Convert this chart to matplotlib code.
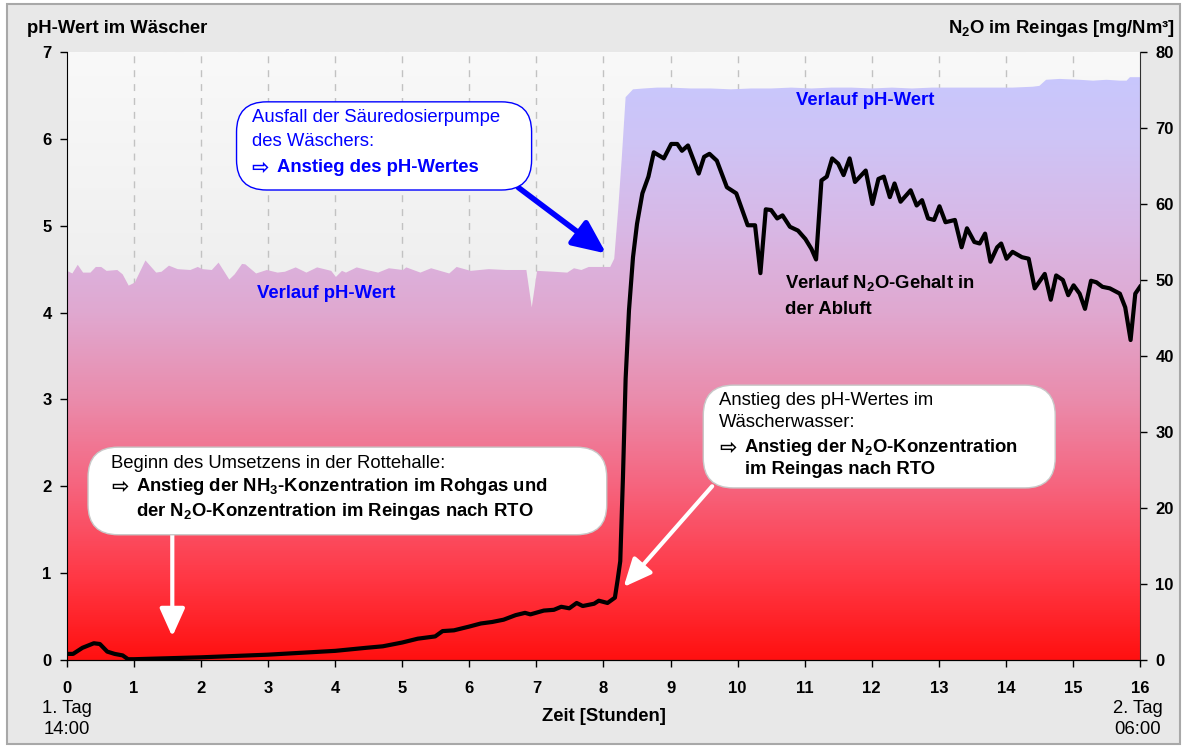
import numpy as np
import matplotlib.pyplot as plt
from matplotlib.colors import LinearSegmentedColormap
from matplotlib.patches import Polygon, FancyBboxPatch, Rectangle

plt.rcParams['font.family'] = ['Liberation Sans', 'DejaVu Sans']
plt.rcParams['font.weight'] = 'bold'
plt.rcParams['font.size'] = 12
plt.rcParams['mathtext.fontset'] = 'custom'
plt.rcParams['mathtext.rm'] = 'Liberation Sans'
plt.rcParams['mathtext.bf'] = 'Liberation Sans:bold'

# pH im Waescher (linke Achse)
t_ph = [0.00, 0.08, 0.16, 0.24, 0.35, 0.43, 0.51, 0.59, 0.75, 0.83, 0.92, 1.01,
        1.17, 1.33, 1.41, 1.52, 1.65, 1.84, 1.95, 2.02, 2.16, 2.26, 2.42, 2.50,
        2.61, 2.66, 2.82, 2.98, 3.14, 3.25, 3.41, 3.57, 3.73, 3.94, 4.01, 4.10,
        4.16, 4.32, 4.47, 4.64, 4.80, 5.01, 5.06, 5.27, 5.43, 5.70, 5.81, 6.02,
        6.29, 6.55, 6.85, 6.93, 7.01, 7.25, 7.46, 7.56, 7.67, 7.78, 8.10, 8.16,
        8.22, 8.27, 8.33, 8.44, 8.60, 8.80, 9.00, 9.30, 9.60, 9.90, 10.20, 10.50,
        10.80, 11.10, 11.40, 11.70, 12.00, 12.30, 12.60, 12.90, 13.20, 13.50,
        13.80, 14.10, 14.40, 14.50, 14.60, 14.80, 15.10, 15.30, 15.50, 15.70,
        15.80, 15.85, 16.00]
ph = [4.48, 4.45, 4.55, 4.46, 4.46, 4.525, 4.525, 4.48, 4.49, 4.44, 4.31, 4.345,
      4.60, 4.46, 4.47, 4.54, 4.50, 4.49, 4.525, 4.50, 4.49, 4.575, 4.38, 4.44,
      4.56, 4.555, 4.45, 4.49, 4.46, 4.47, 4.52, 4.46, 4.52, 4.48, 4.41, 4.48,
      4.46, 4.52, 4.49, 4.46, 4.51, 4.49, 4.52, 4.46, 4.51, 4.45, 4.525, 4.48,
      4.50, 4.49, 4.49, 4.06, 4.48, 4.47, 4.46, 4.51, 4.49, 4.525, 4.525, 4.62,
      5.20, 5.75, 6.48, 6.57, 6.58, 6.59, 6.59, 6.58, 6.58, 6.57, 6.58, 6.58,
      6.59, 6.58, 6.59, 6.59, 6.58, 6.59, 6.58, 6.59, 6.59, 6.59,
      6.59, 6.59, 6.60, 6.61, 6.68, 6.69, 6.68, 6.67, 6.68, 6.67,
      6.67, 6.71, 6.71]

# N2O im Reingas (rechte Achse)
t_n2o = [0.00, 0.09, 0.23, 0.40, 0.49, 0.60, 0.71, 0.83, 0.91, 1.00, 2.00, 3.00,
         3.60, 4.00, 4.46, 4.71, 5.00, 5.23, 5.49, 5.60, 5.77, 6.00, 6.17, 6.34,
         6.51, 6.69, 6.83, 6.91, 7.11, 7.26, 7.37, 7.49, 7.60, 7.69, 7.86, 7.93,
         8.06, 8.17, 8.21, 8.25, 8.29, 8.33, 8.38, 8.44, 8.50, 8.58, 8.67, 8.75,
         8.90, 9.01, 9.10, 9.17, 9.26, 9.42, 9.50, 9.58, 9.69, 9.84, 9.98, 10.15,
         10.26, 10.34, 10.42, 10.50, 10.59, 10.67, 10.78, 10.90, 11.01, 11.10,
         11.17, 11.25, 11.33, 11.41, 11.50, 11.58, 11.67, 11.75, 11.91, 12.01,
         12.10, 12.18, 12.27, 12.34, 12.43, 12.58, 12.67, 12.75, 12.84, 12.93,
         13.01, 13.10, 13.24, 13.34, 13.42, 13.53, 13.61, 13.69, 13.77, 13.87,
         13.93, 14.01, 14.10, 14.24, 14.34, 14.43, 14.58, 14.67, 14.75, 14.85,
         14.93, 15.01, 15.10, 15.18, 15.27, 15.35, 15.44, 15.55, 15.70, 15.78,
         15.86, 15.93, 16.00]
n2o = [0.8, 0.8, 1.6, 2.2, 2.1, 1.1, 0.8, 0.6, 0.1, 0.1, 0.35, 0.7,
       1.0, 1.2, 1.6, 1.8, 2.3, 2.8, 3.1, 3.8, 3.9, 4.4, 4.8, 5.0,
       5.3, 5.9, 6.2, 6.0, 6.5, 6.6, 7.0, 6.8, 7.5, 7.1, 7.4, 7.8,
       7.5, 8.2, 10.5, 13.0, 24.0, 37.0, 46.0, 53.0, 57.4, 61.4, 63.6, 66.8,
       66.0, 67.9, 67.9, 67.0, 67.7, 64.0, 66.2, 66.6, 65.7, 62.2, 61.4, 57.2,
       57.2, 50.9, 59.3, 59.2, 58.1, 58.5, 57.0, 56.5, 55.4, 54.1,
       52.7, 63.1, 63.6, 66.0, 65.3, 63.8, 66.0, 62.9, 64.4, 60.0,
       63.3, 63.6, 60.9, 62.7, 60.3, 61.8, 59.8, 60.5, 58.1, 57.9,
       59.7, 57.6, 57.9, 54.3, 56.8, 55.0, 54.8, 56.1, 52.4, 54.3,
       54.8, 52.8, 53.7, 53.0, 52.8, 48.9, 50.8, 47.4, 50.6, 50.0,
       48.0, 49.3, 48.2, 46.2, 49.9, 49.7, 49.1, 48.9, 48.2, 46.4,
       42.1, 48.2, 49.1]

hours = list(range(17))
n2o_ticks = list(range(0, 81, 10))

N2O = r'N$_\mathbf{2}$O'
FS = 13.3

fig = plt.figure(figsize=(11.86, 7.47), dpi=100)
fig.patch.set_facecolor('white')
fig.add_artist(Rectangle((0.006, 0.004), 0.989, 0.99, transform=fig.transFigure,
                         facecolor='#e8e8e8', edgecolor='#a8a8a8', lw=1.5, zorder=-10))

ax = fig.add_axes([0.0565, 0.1165, 0.9047, 0.8139])
ax.set_facecolor('none')

# hintergrund im Diagramm: hell nach grau
bg = LinearSegmentedColormap.from_list('bg', ['#dedede', '#f9f9f9'])
ax.imshow(np.linspace(0, 1, 256).reshape(-1, 1), extent=(0, 16, 0, 7), origin='lower',
          aspect='auto', cmap=bg, zorder=0)

for h in hours[1:-1]:
    ax.axvline(h, color='#c2c2c2', lw=1, dashes=(5, 5), zorder=1)

# pH-Flaeche mit Farbverlauf rot -> lila -> blau
ph_cmap = LinearSegmentedColormap.from_list('ph', [
    (0.0, '#ff1010'), (1/7, '#ff3a48'), (2/7, '#f6647e'), (3/7, '#ea8cac'),
    (4/7, '#e0a8d0'), (5/7, '#d8b8e6'), (6/7, '#cec4f6'), (1.0, '#c6c8ff')])
im = ax.imshow(np.linspace(0, 1, 512).reshape(-1, 1), extent=(0, 16, 0, 7), origin='lower',
               aspect='auto', cmap=ph_cmap, zorder=2)
poly = Polygon(np.column_stack([np.r_[t_ph, 16, 0], np.r_[ph, 0, 0]]), closed=True,
               facecolor='none', edgecolor='none', transform=ax.transData)
ax.add_patch(poly)
im.set_clip_path(poly)

ax.set_xlim(0, 16)
ax.set_ylim(0, 7)
ax.set_xticks(hours)
ax.set_yticks(range(8))
ax.tick_params(axis='y', direction='out', length=5, width=1, pad=6, labelsize=12)
ax.tick_params(axis='x', direction='out', length=5, width=1, pad=10, labelsize=12)
ax.spines['top'].set_visible(False)
ax.spines['right'].set_visible(False)

ax2 = ax.twinx()
ax2.plot(t_n2o, n2o, color='black', lw=3, zorder=3)
ax2.set_ylim(0, 80)
ax2.set_yticks(n2o_ticks)
ax2.tick_params(axis='y', direction='out', length=5, width=1, pad=6, labelsize=12)
ax2.spines['top'].set_visible(False)
ax2.spines['left'].set_visible(False)
ax2.spines['right'].set_color('#303030')

asp = 1073 / 608

# Sprechblasen
def bubble(x0, y0, x1, y1, ec):
    ax2.add_patch(FancyBboxPatch((x0, y0), x1 - x0, y1 - y0,
                                 boxstyle='round,pad=0,rounding_size=0.028',
                                 mutation_aspect=asp, transform=ax2.transAxes,
                                 facecolor='white', edgecolor=ec, lw=1, zorder=5))

def line(x, y, s, weight='bold', color='black', arrow_sign=False):
    if arrow_sign:
        ax2.text(x, y, '⇨', transform=ax2.transAxes, fontsize=15, fontweight='bold',
                 color=color, ha='left', va='center', zorder=6, family='DejaVu Sans')
        ax2.annotate(s, xy=(x, y), xycoords=ax2.transAxes, xytext=(18, 0),
                     textcoords='offset points', fontsize=FS, fontweight=weight,
                     color=color, ha='left', va='center', zorder=6)
    else:
        ax2.text(x, y, s, transform=ax2.transAxes, fontsize=FS, fontweight=weight,
                 color=color, ha='left', va='center', zorder=6)

def arrow(tail, tip, color, lw, ms):
    ax2.annotate('', xy=tip, xytext=tail, xycoords=ax.transData, textcoords=ax.transData,
                 arrowprops=dict(arrowstyle='-|>,head_length=1.0,head_width=0.45',
                                 color=color, lw=lw, mutation_scale=ms,
                                 shrinkA=0, shrinkB=0), zorder=4)

arrow((6.73, 5.44), (8.04, 4.68), '#0000ff', 4, 20)
arrow((1.57, 1.44), (1.57, 0.27), 'white', 3, 17)
arrow((9.62, 2.00), (8.30, 0.84), 'white', 3, 17)

bubble(0.158, 0.773, 0.433, 0.918, '#0000ff')
line(0.172, 0.893, 'Ausfall der Säuredosierpumpe', 'normal', '#0000ff')
line(0.172, 0.852, 'des Wäschers:', 'normal', '#0000ff')
line(0.172, 0.810, 'Anstieg des pH-Wertes', 'bold', '#0000ff', arrow_sign=True)

bubble(0.0196, 0.206, 0.503, 0.350, '#c8c8c8')
line(0.041, 0.323, 'Beginn des Umsetzens in der Rottehalle:', 'normal')
line(0.041, 0.285, r'Anstieg der NH$_\mathbf{3}$-Konzentration im Rohgas und', arrow_sign=True)
line(0.0645, 0.244, 'der ' + N2O + '-Konzentration im Reingas nach RTO')

bubble(0.593, 0.283, 0.921, 0.452, '#c8c8c8')
line(0.608, 0.426, 'Anstieg des pH-Wertes im', 'normal')
line(0.608, 0.390, 'Wäscherwasser:', 'normal')
line(0.608, 0.349, 'Anstieg der ' + N2O + '-Konzentration', arrow_sign=True)
line(0.632, 0.313, 'im Reingas nach RTO')

ax2.text(3.86, 4.22 * 80 / 7, 'Verlauf pH-Wert', color='#0000ff', fontsize=FS,
         ha='center', va='center', zorder=6)
ax2.text(11.9, 6.44 * 80 / 7, 'Verlauf pH-Wert', color='#0000ff', fontsize=FS,
         ha='center', va='center', zorder=6)
ax2.text(10.7, 4.34 * 80 / 7, 'Verlauf ' + N2O + '-Gehalt in', fontsize=FS, ha='left',
         va='center', zorder=6)
ax2.text(10.7, 4.04 * 80 / 7, 'der Abluft', fontsize=FS, ha='left', va='center', zorder=6)

# Achsentitel
fig.text(0.0228, 0.9625, 'pH-Wert im Wäscher', ha='left', va='center', fontsize=FS)
fig.text(0.9907, 0.9625, N2O + ' im Reingas [mg/Nm³]', ha='right', va='center', fontsize=FS)
fig.text(0.5093, 0.0402, 'Zeit [Stunden]', ha='center', va='center', fontsize=FS)
fig.text(0.0565, 0.0522, '1. Tag', ha='center', va='center', fontsize=FS, fontweight='normal')
fig.text(0.0565, 0.0228, '14:00', ha='center', va='center', fontsize=FS, fontweight='normal')
fig.text(0.9595, 0.0522, '2. Tag', ha='center', va='center', fontsize=FS, fontweight='normal')
fig.text(0.9595, 0.0228, '06:00', ha='center', va='center', fontsize=FS, fontweight='normal')

fig.savefig('out.png', dpi=100)
